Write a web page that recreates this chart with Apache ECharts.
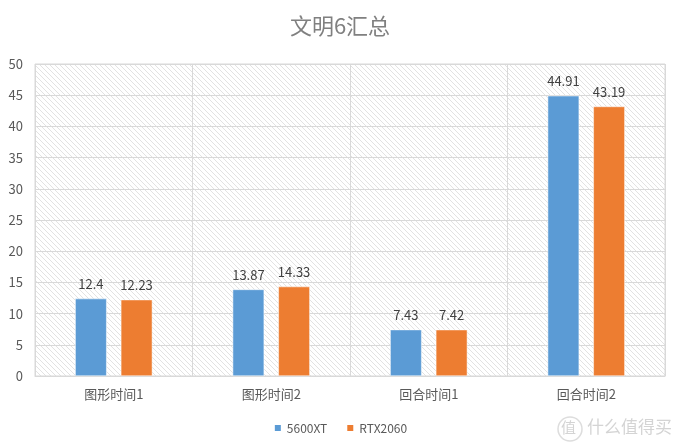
<!DOCTYPE html>
<html><head><meta charset="utf-8">
<script src="https://cdn.jsdelivr.net/npm/echarts@6/dist/echarts.min.js"></script>
<style>html,body{margin:0;padding:0;background:#fff}#c{width:680px;height:447px}</style>
</head><body><div id="c"></div>
<script>
const categories = ['图形时间1', '图形时间2', '回合时间1', '回合时间2'];
const series5600XT = [12.4, 13.87, 7.43, 44.91];
const seriesRTX2060 = [12.23, 14.33, 7.42, 43.19];
const seriesNames = ['5600XT', 'RTX2060'];

const tile = document.createElement('canvas');
const N = 5;
tile.width = N; tile.height = N;
const ctx = tile.getContext('2d');
ctx.fillStyle = '#ffffff'; ctx.fillRect(0, 0, N, N);
ctx.strokeStyle = '#e2e2e2'; ctx.lineWidth = 1;
ctx.beginPath();
ctx.moveTo(-1, -1); ctx.lineTo(N + 1, N + 1);
ctx.moveTo(-1, N - 1); ctx.lineTo(1, N + 1);
ctx.moveTo(N - 1, -1); ctx.lineTo(N + 1, 1);
ctx.stroke();

const chart = echarts.init(document.getElementById('c'));
const font = '"Noto Sans CJK SC", "Noto Sans", sans-serif';
chart.setOption({
  animation: false,
  title: { text: '文明6汇总', left: 'center', top: 10,
    textStyle: { fontFamily: font, fontSize: 22, fontWeight: 'normal', color: '#808080' } },
  legend: { bottom: 8, left: 'center', itemWidth: 8, itemHeight: 8, itemGap: 18, icon: 'rect',
    textStyle: { fontFamily: font, fontSize: 12, color: '#595959' } },
  grid: { left: 35, right: 15, top: 64, bottom: 71, show: true,
    backgroundColor: { image: tile, repeat: 'repeat' }, borderColor: '#d9d9d9', borderWidth: 1 },
  xAxis: { type: 'category', data: categories,
    axisLine: { show: true, lineStyle: { color: '#d9d9d9' } },
    axisTick: { show: false },
    splitLine: { show: true, lineStyle: { color: '#d9d9d9' } },
    axisLabel: { fontFamily: font, fontSize: 13, color: '#595959', margin: 12 } },
  yAxis: { type: 'value', min: 0, max: 50, interval: 5,
    axisLine: { show: false }, axisTick: { show: false },
    splitLine: { lineStyle: { color: '#d9d9d9' } },
    axisLabel: { fontFamily: font, fontSize: 13, color: '#595959', margin: 12 } },
  series: [
    { name: seriesNames[0], type: 'bar', data: series5600XT, barWidth: '20%', barGap: '45%',
      itemStyle: { color: '#5B9BD5', borderColor: '#ffffff', borderWidth: 0.5 },
      label: { show: true, position: 'top', distance: 8, fontFamily: font, fontSize: 13, color: '#404040' } },
    { name: seriesNames[1], type: 'bar', data: seriesRTX2060, barWidth: '20%', barGap: '45%',
      itemStyle: { color: '#ED7D31', borderColor: '#ffffff', borderWidth: 0.5 },
      label: { show: true, position: 'top', distance: 8, fontFamily: font, fontSize: 13, color: '#404040' } }
  ],
  graphic: [
    { type: 'circle', shape: { cx: 570, cy: 429, r: 12 }, style: { fill: 'none', stroke: '#dddddd', lineWidth: 1.5 } },
    { type: 'text', left: 561, top: 420, style: { text: '值', fontFamily: font, fontSize: 15, fill: '#d4d4d4' } },
    { type: 'text', left: 587, top: 418, style: { text: '什么值得买', fontFamily: font, fontSize: 17, fill: '#d4d4d4' } }
  ]
});
</script></body></html>
